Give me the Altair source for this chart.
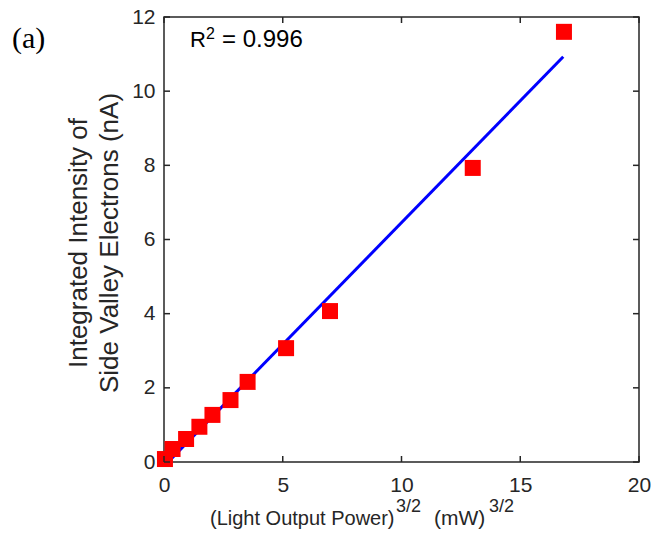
import altair as alt
import pandas as pd

# Data
power_x = [0.04, 0.36, 0.93, 1.49, 2.04, 2.80, 3.52, 5.14, 6.99, 13.0, 16.84]
intensity_y = [0.08, 0.35, 0.62, 0.95, 1.27, 1.67, 2.16, 3.07, 4.07, 7.93, 11.6]
fit_x = [0.22, 16.81]
fit_y = [0.03, 10.93]
x_ticks = [0, 5, 10, 15, 20]
y_ticks = [0, 2, 4, 6, 8, 10, 12]

W, H = 475, 445
FONT = "Liberation Sans"

pts = pd.DataFrame({"x": power_x, "y": intensity_y})
fit = pd.DataFrame({"x": fit_x, "y": fit_y})
xt = pd.DataFrame({"t": x_ticks})
yt = pd.DataFrame({"t": y_ticks})

xs = alt.Scale(domain=[0, 20], nice=False)
ys = alt.Scale(domain=[0, 12], nice=False)

xaxis = alt.Axis(values=x_ticks, title=None, ticks=False, domain=False, grid=False, labelFlush=False,
                 labelFont=FONT, labelFontSize=21, labelColor="#262626", labelPadding=12)
yaxis = alt.Axis(values=y_ticks, title=None, ticks=False, domain=False, grid=False, labelFlush=False,
                 labelFont=FONT, labelFontSize=21, labelColor="#262626", labelPadding=9)

base_pts = alt.Chart(pts).mark_point(shape="square", filled=True, size=256, color="#ff0000", opacity=1).encode(
    x=alt.X("x:Q", scale=xs, axis=xaxis),
    y=alt.Y("y:Q", scale=ys, axis=yaxis),
)

line = alt.Chart(fit).mark_line(color="#0000ff", strokeWidth=3).encode(
    x=alt.X("x:Q", scale=xs), y=alt.Y("y:Q", scale=ys)
)

tk = 6
tick_col = "#262626"
bt = alt.Chart(xt).mark_rule(color=tick_col, strokeWidth=1.5).encode(
    x=alt.X("t:Q", scale=xs), y=alt.value(H), y2=alt.value(H - tk))
tt = alt.Chart(xt).mark_rule(color=tick_col, strokeWidth=1.5).encode(
    x=alt.X("t:Q", scale=xs), y=alt.value(0), y2=alt.value(tk))
lt = alt.Chart(yt).mark_rule(color=tick_col, strokeWidth=1.5).encode(
    y=alt.Y("t:Q", scale=ys), x=alt.value(0), x2=alt.value(tk))
rt = alt.Chart(yt).mark_rule(color=tick_col, strokeWidth=1.5).encode(
    y=alt.Y("t:Q", scale=ys), x=alt.value(W), x2=alt.value(W - tk))

def txt(s, x, y, size, font=FONT, angle=0, align="left", baseline="alphabetic", color="#262626"):
    return alt.Chart(pd.DataFrame({"s": [s]})).mark_text(
        font=font, fontSize=size, angle=angle, align=align, baseline=baseline, color=color
    ).encode(text="s:N", x=alt.value(x), y=alt.value(y))

texts = [
    txt("R", 26, 30, 22, color="#000000"),
    txt("2", 42, 22, 16, color="#000000"),
    txt("= 0.996", 58, 30, 24, color="#000000"),
    txt("(a)", -152, 31, 30, font="Liberation Serif", color="#000000"),
    txt("Integrated Intensity of", -77, 226, 26, angle=270, align="center"),
    txt("Side Valley Electrons (nA)", -46, 226, 26, angle=270, align="center"),
    txt("(Light Output Power)", 46, 508, 20),
    txt("3/2", 232, 495, 18),
    txt("(mW)", 270, 508, 21),
    txt("3/2", 325, 495, 18),
]

chart = alt.layer(line, base_pts, bt, tt, lt, rt, *texts).properties(
    width=W, height=H,
    autosize=alt.AutoSizeParams(type="none"),
    padding={"left": 156, "top": 9, "right": 12, "bottom": 76},
).configure_view(stroke="#262626", strokeWidth=1.5)

chart.save("out.html", embed_options={"renderer": "svg", "actions": False})
